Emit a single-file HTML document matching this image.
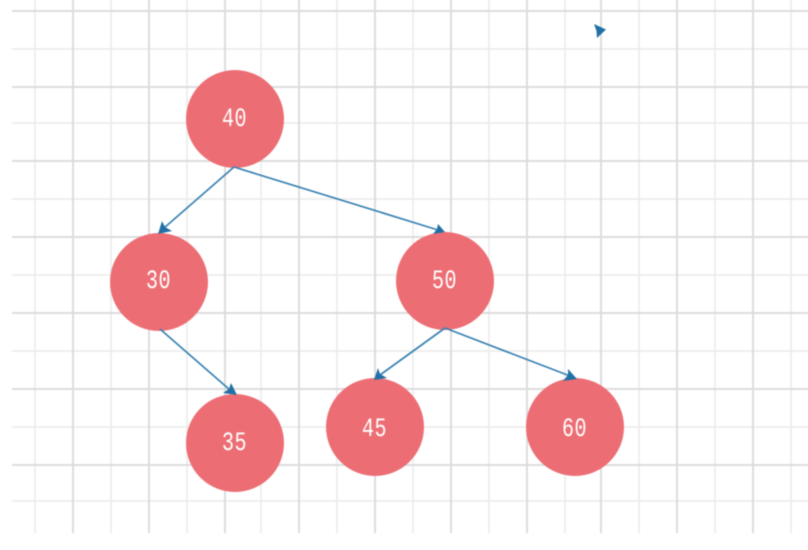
<!DOCTYPE html>
<html>
<head>
<meta charset="utf-8">
<style>
html,body{margin:0;padding:0;background:#fff;width:808px;height:550px;overflow:hidden}
svg{display:block;filter:blur(0.5px)}
text{font-family:"Liberation Mono",monospace;font-size:20px;fill:#fff;text-anchor:middle;letter-spacing:.5px}
.d{stroke:#dcdcdc;stroke-width:2}
.l{stroke:#eeeeee;stroke-width:2}
.c{stroke:#3a82b3;stroke-width:1.7;fill:none}
.a{fill:#2170a6}
circle{fill:#ec6e74}
</style>
</head>
<body>
<svg width="808" height="550" viewBox="0 0 808 550" xmlns="http://www.w3.org/2000/svg">
<g>
<line class="l" x1="35" y1="0" x2="35" y2="533"/><line class="l" x1="111" y1="0" x2="111" y2="533"/><line class="l" x1="187" y1="0" x2="187" y2="533"/><line class="l" x1="261" y1="0" x2="261" y2="533"/><line class="l" x1="337" y1="0" x2="337" y2="533"/><line class="l" x1="413" y1="0" x2="413" y2="533"/><line class="l" x1="489" y1="0" x2="489" y2="533"/><line class="l" x1="565" y1="0" x2="565" y2="533"/><line class="l" x1="639" y1="0" x2="639" y2="533"/><line class="l" x1="715" y1="0" x2="715" y2="533"/><line class="l" x1="791" y1="0" x2="791" y2="533"/>
<line class="l" x1="12" y1="49" x2="808" y2="49"/><line class="l" x1="12" y1="123" x2="808" y2="123"/><line class="l" x1="12" y1="199" x2="808" y2="199"/><line class="l" x1="12" y1="275" x2="808" y2="275"/><line class="l" x1="12" y1="351" x2="808" y2="351"/><line class="l" x1="12" y1="427" x2="808" y2="427"/><line class="l" x1="12" y1="501" x2="808" y2="501"/>
<line class="d" x1="73" y1="0" x2="73" y2="533"/><line class="d" x1="149" y1="0" x2="149" y2="533"/><line class="d" x1="225" y1="0" x2="225" y2="533"/><line class="d" x1="299" y1="0" x2="299" y2="533"/><line class="d" x1="375" y1="0" x2="375" y2="533"/><line class="d" x1="451" y1="0" x2="451" y2="533"/><line class="d" x1="527" y1="0" x2="527" y2="533"/><line class="d" x1="601" y1="0" x2="601" y2="533"/><line class="d" x1="677" y1="0" x2="677" y2="533"/><line class="d" x1="753" y1="0" x2="753" y2="533"/>
<line class="d" x1="12" y1="11" x2="808" y2="11"/><line class="d" x1="12" y1="87" x2="808" y2="87"/><line class="d" x1="12" y1="161" x2="808" y2="161"/><line class="d" x1="12" y1="237" x2="808" y2="237"/><line class="d" x1="12" y1="313" x2="808" y2="313"/><line class="d" x1="12" y1="389" x2="808" y2="389"/><line class="d" x1="12" y1="465" x2="808" y2="465"/>
</g>
<circle cx="235" cy="119" r="49"/>
<circle cx="159" cy="282" r="49"/>
<circle cx="445" cy="281" r="49"/>
<circle cx="235" cy="443" r="49"/>
<circle cx="375" cy="427" r="49"/>
<circle cx="575" cy="427" r="49"/>
<line class="c" x1="234" y1="167" x2="164" y2="228"/>
<line class="c" x1="234" y1="167" x2="438" y2="230"/>
<line class="c" x1="160" y1="329" x2="230" y2="390"/>
<line class="c" x1="445" y1="328" x2="380" y2="375"/>
<line class="c" x1="445" y1="328" x2="570" y2="376"/>
<polygon class="a" points="158,234 162,221 165,227 172,231"/>
<polygon class="a" points="445,232 438,224 437,229 433,234"/>
<polygon class="a" points="237,395 231,383 229,389 223,393"/>
<polygon class="a" points="374,380 378,368 380,374 387,378"/>
<polygon class="a" points="577,379 568,369 568,375 563,381"/>
<polygon class="a" points="594,24 606,29.500 597,38 596.500,31"/>
<text transform="translate(234.5,126) scale(1,1.35)">40</text>
<text transform="translate(158.5,288) scale(1,1.35)">30</text>
<text transform="translate(444.5,288) scale(1,1.35)">50</text>
<text transform="translate(234.5,450) scale(1,1.35)">35</text>
<text transform="translate(374.5,436) scale(1,1.35)">45</text>
<text transform="translate(574.5,436) scale(1,1.35)">60</text>
</svg>
</body>
</html>
